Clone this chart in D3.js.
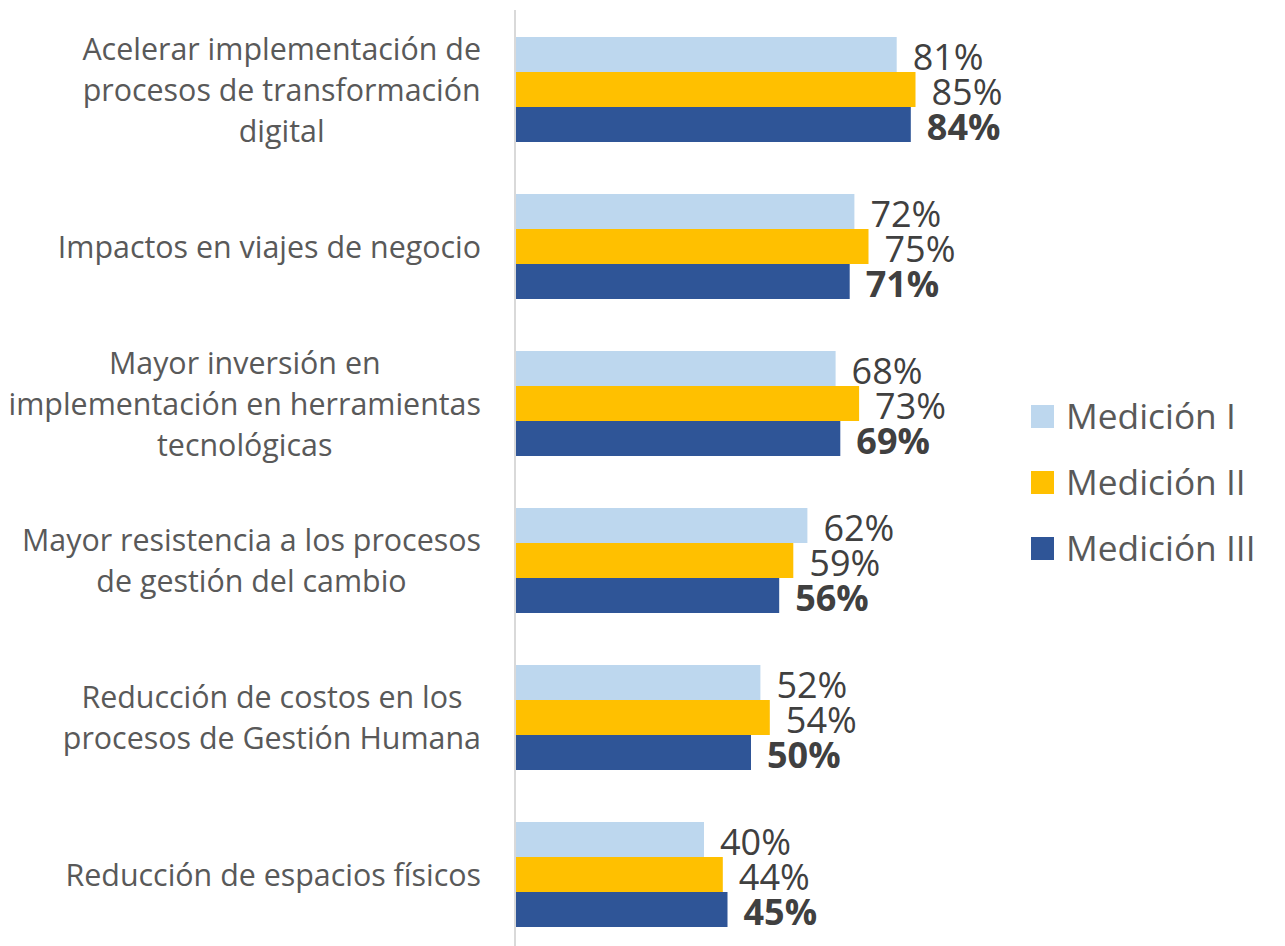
<!DOCTYPE html>
<html>
<head>
<meta charset="utf-8">
<script src="https://cdn.jsdelivr.net/npm/d3@7"></script>
<style>
  html, body { margin: 0; padding: 0; background: #ffffff; }
  svg { display: block; }
</style>
</head>
<body>
<svg id="chart" width="1285" height="946"></svg>
<script>
// ---- Data ----
const categories = [
  "Acelerar implementación de\nprocesos de transformación\ndigital",
  "Impactos en viajes de negocio",
  "Mayor inversión en\nimplementación en herramientas\ntecnológicas",
  "Mayor resistencia a los procesos\nde gestión del cambio",
  "Reducción de costos en los\nprocesos de Gestión Humana",
  "Reducción de espacios físicos"
];
const seriesNames = ["Medición I", "Medición II", "Medición III"];
const medicionI   = [81, 72, 68, 62, 52, 40];
const medicionII  = [85, 75, 73, 59, 54, 44];
const medicionIII = [84, 71, 69, 56, 50, 45];
const seriesValues = [medicionI, medicionII, medicionIII];
const colors = ["#BDD7EE", "#FFC000", "#2F5597"];

// ---- Layout ----
const svg = d3.select("#chart");
const FONT = "'Open Sans', 'Noto Sans', sans-serif";

const x = d3.scaleLinear().domain([0, 100]).range([516, 986]);
const y0 = d3.scaleBand().domain(categories).range([11, 953])
  .paddingInner(52 / 157).paddingOuter(26 / 157);
const y1 = d3.scaleBand().domain(seriesNames).range([0, y0.bandwidth()]);

// axis line (category axis)
svg.append("line")
  .attr("x1", 515).attr("x2", 515)
  .attr("y1", 10).attr("y2", 946)
  .attr("stroke", "#d9d9d9").attr("stroke-width", 2);

const rows = [];
categories.forEach((c, ci) => {
  seriesNames.forEach((s, si) => {
    rows.push({ cat: c, series: s, si, value: seriesValues[si][ci] });
  });
});

const g = svg.append("g");
g.selectAll("rect.bar").data(rows).enter().append("rect")
  .attr("class", "bar")
  .attr("x", x(0))
  .attr("y", d => y0(d.cat) + y1(d.series))
  .attr("width", d => x(d.value) - x(0))
  .attr("height", y1.bandwidth())
  .attr("fill", d => colors[d.si]);

g.selectAll("text.val").data(rows).enter().append("text")
  .attr("class", "val")
  .attr("x", d => x(d.value) + 16)
  .attr("y", d => y0(d.cat) + y1(d.series) + y1.bandwidth() / 2 + 15)
  .attr("font-family", FONT)
  .attr("font-size", 36)
  .attr("font-weight", d => d.si === 2 ? 700 : 400)
  .attr("fill", "#404040")
  .text(d => d.value + "%");

// category labels: block right-aligned, lines centered within block
const labelRight = 481;
const lineH = 41;
categories.forEach(c => {
  const lines = c.split("\n");
  const grp = svg.append("g");
  const texts = lines.map((ln, i) => grp.append("text")
    .attr("font-family", FONT)
    .attr("font-size", 30.4)
    .attr("fill", "#595959")
    .attr("text-anchor", "middle")
    .attr("y", y0(c) + y0.bandwidth() / 2 + (i - (lines.length - 1) / 2) * lineH + 11)
    .text(ln));
  const maxW = d3.max(texts, t => t.node().getComputedTextLength());
  texts.forEach(t => t.attr("x", labelRight - maxW / 2));
});

// legend
const legY = d3.scaleBand().domain(seriesNames).range([383.5, 581.5]);
const leg = svg.append("g");
seriesNames.forEach((s, i) => {
  leg.append("rect")
    .attr("x", 1031).attr("y", legY(s) + legY.bandwidth() / 2 - 11.5)
    .attr("width", 23).attr("height", 23)
    .attr("fill", colors[i]);
  leg.append("text")
    .attr("x", 1066)
    .attr("y", legY(s) + legY.bandwidth() / 2 + 12.5)
    .attr("font-family", FONT)
    .attr("font-size", 35.3)
    .attr("fill", "#595959")
    .text(s);
});
</script>
</body>
</html>
